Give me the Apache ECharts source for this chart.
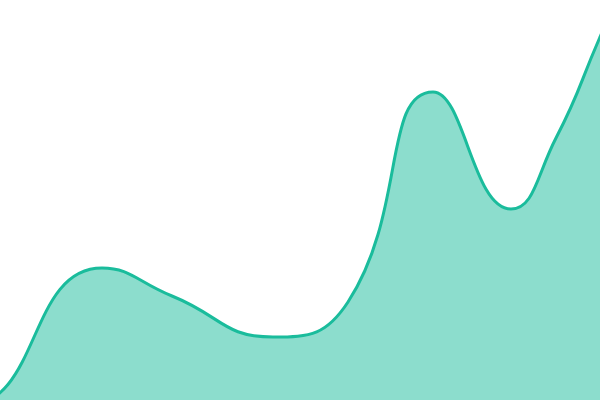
<!DOCTYPE html>
<html>
<head>
<meta charset="utf-8">
<script src="https://cdn.jsdelivr.net/npm/echarts@6/dist/echarts.min.js"></script>
<style>
  html, body { margin: 0; padding: 0; background: #fff; }
  #chart { width: 600px; height: 400px; }
</style>
</head>
<body>
<div id="chart"></div>
<script>
// x positions and values; the two first points and
// the last one lie just outside the visible window
const xs = [-110, -35, 102, 172, 273, 348, 433, 511, 556, 600, 660];
const values = [10, -6, 132, 104, 63, 98, 308, 191, 262, 363, 500];

const chart = echarts.init(document.getElementById('chart'));
chart.setOption({
    animation: false,
    grid: { left: 0, right: 0, top: 0, bottom: 0 },
    xAxis: { type: 'value', min: 0, max: 600, show: false },
    yAxis: { type: 'value', min: 0, max: 400, show: false },
    series: [{
        type: 'line',
        data: xs.map((x, i) => [x, values[i]]),
        smooth: 0.5,
        symbol: 'none',
        lineStyle: { color: '#1abc9c', width: 3 },
        areaStyle: { color: '#1abc9c', opacity: 0.5 }
    }]
});
</script>
</body>
</html>
